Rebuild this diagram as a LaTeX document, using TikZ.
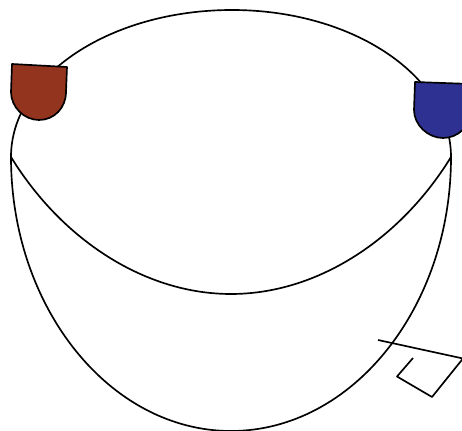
\documentclass[tikz,border=0pt]{standalone}
\usepackage{xcolor}
\usepackage{tikz}
\definecolor{shieldred}{HTML}{93341F}
\definecolor{shieldblue}{HTML}{2E3192}
\tikzset{wire/.style={black, line width=0.95pt, line join=round}}
\tikzset{shield/.style={draw=black, line width=0.95pt, line join=round}}

\begin{document}
\begin{tikzpicture}[x=0.02cm,y=-0.02cm]
  \useasboundingbox (0,0) rectangle (462,431);
  \clip (0,0) rectangle (462,431);
  \coordinate (left) at (11,157);
  \coordinate (right) at (451,157);
  \coordinate (top) at (232,10);
  \coordinate (bottom) at (231,431);
  \coordinate (middle) at (231,294);
  \draw[wire] (left) .. controls (11,76) and (110,10) .. (top);
  \draw[wire] (top) .. controls (353,10) and (451,76) .. (right);
  \draw[wire] (left) .. controls (11,308) and (110,431) .. (bottom);
  \draw[wire] (bottom) .. controls (352,431) and (451,308) .. (right);
  \draw[wire] (left) .. controls (62,240) and (145,294) .. (middle);
  \draw[wire] (middle) .. controls (317,294) and (400,240) .. (right);
  % left and right shields
  \draw[shield, fill=shieldred] (12,64) -- (67,67) -- (66,92) .. controls (66,108) and (54,120) .. (39,120) .. controls (24,120) and (11,107) .. (11,92) -- cycle;
  \draw[shield, fill=shieldblue] (415,82) -- (471,84) -- (471,110) .. controls (471,126) and (458,138) .. (443,138) .. controls (428,138) and (414,125) .. (414,110) -- cycle;
  % corner lines
  \coordinate (p0) at (378,340);
  \coordinate (p1) at (463,358.5);
  \coordinate (p2) at (432,397);
  \coordinate (p3) at (397,376.5);
  \coordinate (p4) at (413,358);
  \draw[wire] (p0) -- (p1) -- (p2) -- (p3) -- (p4);
\end{tikzpicture}
\end{document}
